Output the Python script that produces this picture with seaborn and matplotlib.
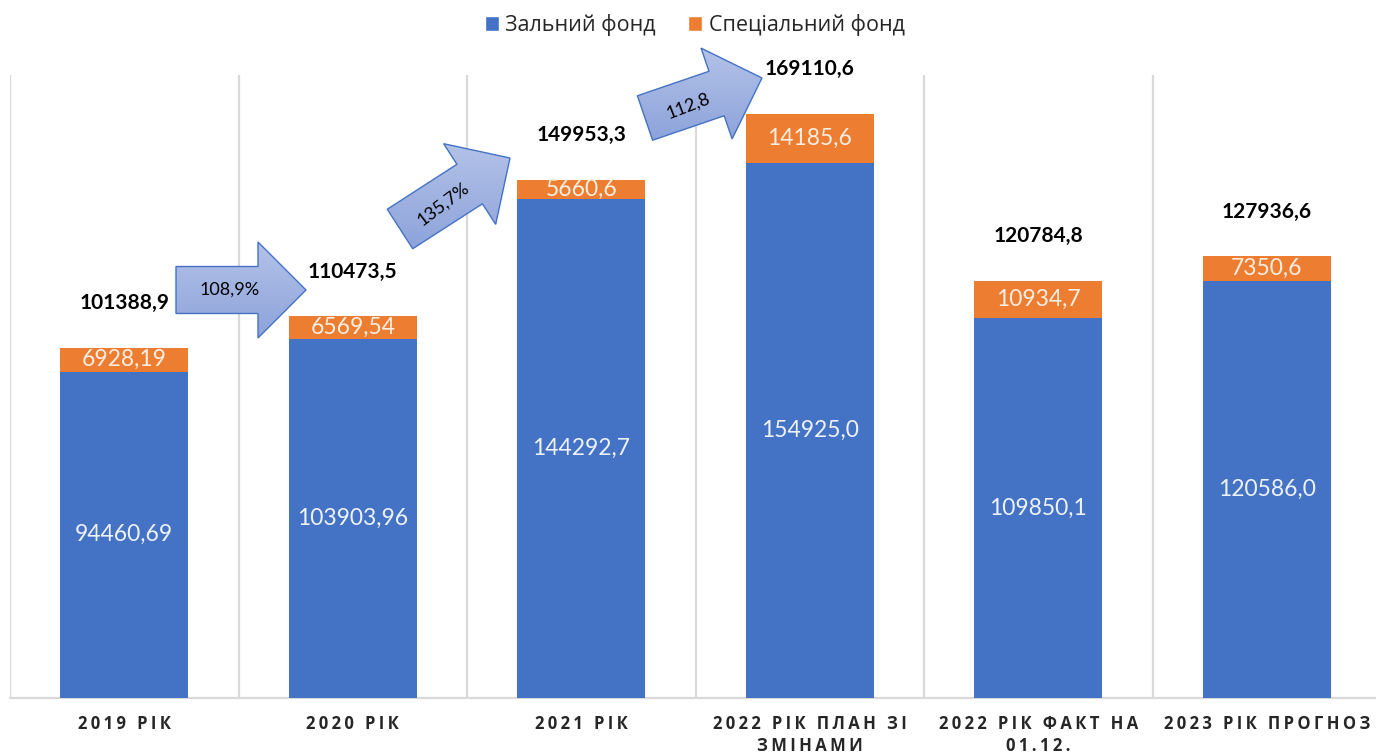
import numpy as np
import pandas as pd
import matplotlib
matplotlib.use("Agg")
import matplotlib.pyplot as plt
import seaborn as sns
from matplotlib.patches import Patch, FancyArrow
from matplotlib.colors import LinearSegmentedColormap

# ---------------- data ----------------
categories = ["2019 РІК", "2020 РІК", "2021 РІК", "2022 РІК ПЛАН ЗІ\nЗМІНАМИ",
              "2022 РІК ФАКТ НА\n01.12.", "2023 РІК ПРОГНОЗ"]
general_fund = [94460.69, 103903.96, 144292.7, 154925.0, 109850.1, 120586.0]
special_fund = [6928.19, 6569.54, 5660.6, 14185.6, 10934.7, 7350.6]
general_labels = ["94460,69", "103903,96", "144292,7", "154925,0", "109850,1", "120586,0"]
special_labels = ["6928,19", "6569,54", "5660,6", "14185,6", "10934,7", "7350,6"]
total_labels = ["101388,9", "110473,5", "149953,3", "169110,6", "120784,8", "127936,6"]
growth_labels = ["108,9%", "135,7%", "112,8"]
series_names = ["Зальний фонд", "Спеціальний фонд"]

BLUE = "#4472C4"
ORANGE = "#ED7D31"

sns.set_theme(style="white")
plt.rcParams["font.family"] = ["Lato", "Open Sans", "DejaVu Sans"]

df = pd.DataFrame({"cat": range(len(categories)),
                   "general": general_fund,
                   "special": special_fund})
df["total"] = df["general"] + df["special"]

W, H = 1376, 753
fig = plt.figure(figsize=(W / 100, H / 100), dpi=100)
ax = fig.add_axes([10 / W, 55 / H, 1371 / W, 623 / H])

sns.barplot(data=df, x="cat", y="total", color=ORANGE, width=0.56,
            saturation=1, ax=ax, zorder=3, linewidth=0)
sns.barplot(data=df, x="cat", y="general", color=BLUE, width=0.56,
            saturation=1, ax=ax, zorder=3, linewidth=0)

ax.set_xlim(-0.5, len(categories) - 0.5)
ax.set_ylim(0, 180300)
ax.set_xlabel("")
ax.set_ylabel("")
ax.set_yticks([])

# category separators
for b in np.arange(-0.5, len(categories), 1.0):
    ax.axvline(b, color="#D9D9D9", lw=1.6, zorder=1)

for s in ["top", "right", "left"]:
    ax.spines[s].set_visible(False)
ax.spines["bottom"].set_color("#D9D9D9")
ax.spines["bottom"].set_linewidth(1.6)

THIN = "\u2009"


def spaced(t):
    lines = []
    for line in t.split("\n"):
        words = line.split(" ")
        lines.append((THIN + " " + THIN).join(THIN.join(list(w)) for w in words))
    return "\n".join(lines)


ax.set_xticks(range(len(categories)))
ax.set_xticklabels([spaced(c) for c in categories], fontsize=12,
                   fontweight="bold", color="#262626",
                   family=["Open Sans", "DejaVu Sans"], linespacing=1.3)
ax.tick_params(axis="x", length=0, pad=12)

# value labels
for i, row in df.iterrows():
    ax.text(i, row["general"] / 2, general_labels[i], ha="center", va="center",
            fontsize=16.5, color="#EEF2FA", zorder=5)
    ax.text(i, row["general"] + row["special"] / 2, special_labels[i],
            ha="center", va="center", fontsize=16.5, color="#FBEEE3", zorder=5)
    ax.annotate(total_labels[i], (i, row["total"]), xytext=(0, 32),
                textcoords="offset points", ha="center", va="center",
                fontsize=15, fontweight="bold", color="black", zorder=5)

# legend
handles = [Patch(facecolor=BLUE), Patch(facecolor=ORANGE)]
fig.legend(handles, series_names, loc="center", bbox_to_anchor=(0.505, 1 - 25 / H),
           ncol=2, frameon=False, handlelength=0.65,
           handleheight=0.65, handletextpad=0.3, columnspacing=1.5,
           prop={"family": ["Open Sans", "DejaVu Sans"], "size": 15.5})

# growth arrows (overlay in pixel coordinates)
ov = fig.add_axes([0, 0, 1, 1], zorder=10)
ov.set_xlim(0, W)
ov.set_ylim(H, 0)
ov.axis("off")
ov.patch.set_alpha(0)

arrows = [
    # tail centre, tip, text pos, rotation
    ((176, 290), (306, 290), (230, 290), 0),
    ((400, 229), (510, 158), (443, 204), 37),
    ((645, 118), (762, 78), (688, 106), 21),
]
grad = np.linspace(0, 1, 100).reshape(-1, 1)
cmap = LinearSegmentedColormap.from_list("g", ["#B3C2E8", "#8DA3DA"])
for (t, tip, tp, rot), lab in zip(arrows, growth_labels):
    dx, dy = tip[0] - t[0], tip[1] - t[1]
    arr = FancyArrow(t[0], t[1], dx, dy, width=47, head_width=96,
                     head_length=48, length_includes_head=True,
                     facecolor="none", edgecolor=BLUE, lw=1.0, zorder=3)
    ov.add_patch(arr)
    xs, ys = arr.get_xy()[:, 0], arr.get_xy()[:, 1]
    im = ov.imshow(grad, cmap=cmap, aspect="auto",
                   extent=(xs.min(), xs.max(), ys.max(), ys.min()), zorder=2)
    im.set_clip_path(arr)
    ov.text(tp[0], tp[1], lab, ha="center", va="center", rotation=rot,
            fontsize=13, color="black", zorder=4)
ov.set_xlim(0, W)
ov.set_ylim(H, 0)

fig.savefig("out.png", dpi=100)
